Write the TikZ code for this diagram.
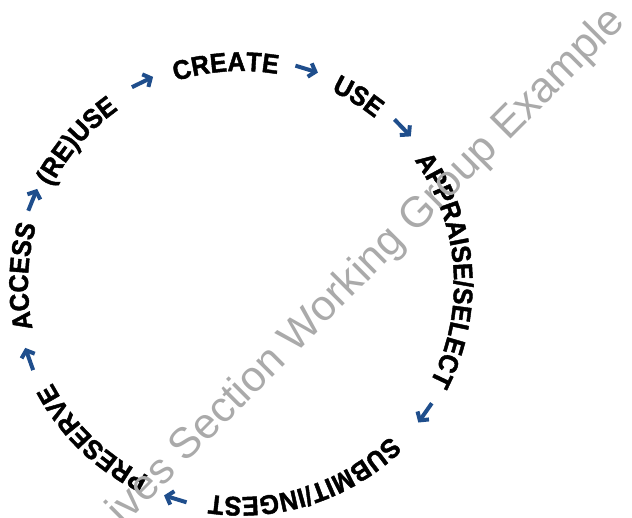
\documentclass[tikz,border=0pt]{standalone}
\usepackage{fontspec}
\setmainfont{Liberation Sans}
\newfontface\heavyface{Liberation Sans Bold}[FakeBold=1.6,FakeStretch=0.93]
\usetikzlibrary{arrows.meta,decorations.text}
\definecolor{arrowblue}{RGB}{31,78,140}
\definecolor{stampgray}{RGB}{170,170,170}
\newcommand{\stagefont}{\heavyface\fontsize{27}{30}\selectfont}

\begin{document}
\begin{tikzpicture}[x=1pt,y=1pt,
  stage/.style={decorate,decoration={text along path,text align=center,text={|\stagefont|#1}}},
  flow/.style={line width=4pt,color=arrowblue,-{Straight Barb[length=6pt,width=14pt]}},
  stamp/.style={color=stampgray,font=\fontsize{43}{48}\selectfont,inner sep=0pt}]
\useasboundingbox (0,0) rectangle (632,518);
\coordinate (c) at (241,234);
% life cycle stages, clockwise
\path[stage=CREATE] (c) ++(139:213pt) arc[start angle=139,end angle=49,radius=213pt];
\path[stage=USE] (c) ++(103:213pt) arc[start angle=103,end angle=13,radius=213pt];
\path[stage={APPRAISE/SELECT}] (c) ++(49:213pt) arc[start angle=49,end angle=-41,radius=213pt];
\path[stage={SUBMIT/INGEST}] (c) ++(333:213pt) arc[start angle=333,end angle=243,radius=213pt];
\path[stage=PRESERVE] (c) ++(271:213pt) arc[start angle=271,end angle=181,radius=213pt];
\path[stage=ACCESS] (c) ++(223:213pt) arc[start angle=223,end angle=133,radius=213pt];
\path[stage={(RE)USE}] (c) ++(184:213pt) arc[start angle=184,end angle=94,radius=213pt];
% arrows between the stages
\foreach \ang [count=\i] in {116,73,44,325,253,199.5,158}{
  \path (c) ++(\ang+3:225pt) coordinate (s\i);
  \path (c) ++(\ang-3:225pt) coordinate (e\i);
  \draw[flow] (s\i) -- (e\i);
}
%\draw (c) circle (225pt);
\node[stamp,rotate=45] (wm) at (367,251) {ives Section Working Group Example};
\end{tikzpicture}
\end{document}
